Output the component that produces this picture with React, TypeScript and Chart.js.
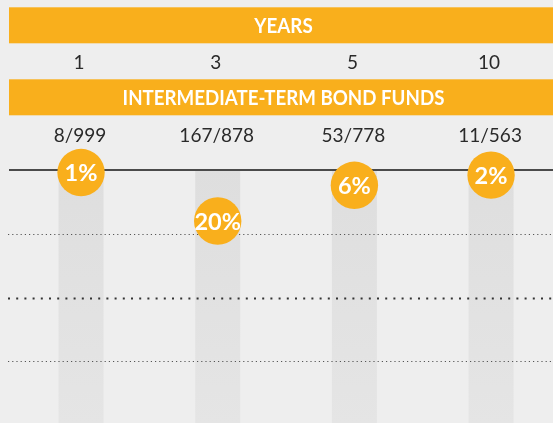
import React, { useEffect, useRef } from "react";
import { Chart, registerables } from "chart.js";

Chart.register(...registerables);

const headerTitle = "YEARS";
const sectionTitle = "INTERMEDIATE-TERM BOND FUNDS";
const years = ["1", "3", "5", "10"];
const fractions = ["8/999", "167/878", "53/778", "11/563"];
const percents = [1, 20, 6, 2];
const gridValues = [25, 50, 75];

const ORANGE = "#F9AF1C";
const BG = "#EEEEEE";
const TEXT = "#2a2a2a";
const FONT = "Lato, 'Open Sans', sans-serif";

const CANVAS_W = 570;
const CANVAS_H = 427;

function condensedText(ctx: CanvasRenderingContext2D, text: string, cx: number, cy: number, sx: number) {
  ctx.save();
  ctx.translate(cx, cy);
  ctx.scale(sx, 1);
  ctx.fillText(text, 0, 0);
  ctx.restore();
}

const infographic = {
  id: "infographic",
  beforeDraw(chart: any) {
    const { ctx } = chart;
    ctx.save();
    ctx.fillStyle = BG;
    ctx.fillRect(0, 0, chart.width, chart.height);
    ctx.restore();
  },
  beforeDatasetsDraw(chart: any) {
    const { ctx, chartArea } = chart;
    const x = chart.scales.x;
    const y = chart.scales.y;
    ctx.save();
    // header bands
    ctx.fillStyle = ORANGE;
    ctx.fillRect(9, 7.3, chart.width - 9, 36);
    ctx.fillRect(9, 79.3, chart.width - 9, 36);
    ctx.fillStyle = "#ffffff";
    ctx.font = `bold 20px ${FONT}`;
    ctx.textAlign = "center";
    ctx.textBaseline = "middle";
    condensedText(ctx, headerTitle, 283.5, 26.5, 0.94);
    condensedText(ctx, sectionTitle, 283.5, 98.5, 0.935);
    // column labels
    ctx.fillStyle = TEXT;
    ctx.font = `19px ${FONT}`;
    years.forEach((lbl, i) => {
      ctx.fillText(lbl, x.getPixelForValue(i) - 2, 63);
    });
    fractions.forEach((lbl, i) => {
      ctx.fillText(lbl, x.getPixelForValue(i) - 1, 135.5);
    });
    // tracks
    const top = y.getPixelForValue(0);
    years.forEach((_, i) => {
      const px = x.getPixelForValue(i);
      const g = ctx.createLinearGradient(0, top, 0, chartArea.bottom);
      g.addColorStop(0, "#dedede");
      g.addColorStop(1, "#e5e5e5");
      ctx.fillStyle = g;
      ctx.fillRect(px - 22.5, top, 45, chartArea.bottom - top);
    });
    // dotted grid lines
    gridValues.forEach((v, i) => {
      const py = Math.round(y.getPixelForValue(v)) + 0.5;
      ctx.beginPath();
      if (i === 1) {
        ctx.lineWidth = 2;
        ctx.setLineDash([2, 6.2]);
        ctx.strokeStyle = "#333333";
      } else {
        ctx.lineWidth = 1;
        ctx.setLineDash([1.2, 3]);
        ctx.strokeStyle = "#555555";
      }
      ctx.moveTo(8, py);
      ctx.lineTo(chart.width, py);
      ctx.stroke();
    });
    // zero line
    ctx.setLineDash([]);
    ctx.beginPath();
    ctx.lineWidth = 2;
    ctx.strokeStyle = "#4a4a4a";
    ctx.moveTo(9, top);
    ctx.lineTo(chart.width, top);
    ctx.stroke();
    ctx.restore();
  },
  afterDatasetsDraw(chart: any) {
    const { ctx } = chart;
    const meta = chart.getDatasetMeta(0);
    ctx.save();
    ctx.fillStyle = "#ffffff";
    ctx.font = `bold 23.5px ${FONT}`;
    ctx.textAlign = "center";
    ctx.textBaseline = "middle";
    meta.data.forEach((pt: any, i: number) => {
      ctx.fillText(`${percents[i]}%`, pt.x, pt.y + 1);
    });
    ctx.restore();
  },
};

export default function App() {
  const ref = useRef<HTMLCanvasElement | null>(null);

  useEffect(() => {
    document.body.style.margin = "0";
    document.body.style.background = BG;
    if (!ref.current) return;
    const chart = new Chart(ref.current, {
      type: "line",
      data: {
        labels: years,
        datasets: [
          {
            data: percents,
            showLine: false,
            pointRadius: 23.7,
            pointHoverRadius: 23.7,
            pointStyle: "circle",
            pointBackgroundColor: ORANGE,
            pointBorderWidth: 0,
            borderColor: ORANGE,
            clip: false as any,
          },
        ],
      },
      options: {
        responsive: false,
        animation: false,
        devicePixelRatio: 1,
        layout: {
          autoPadding: false,
          padding: { left: 12.7, right: 10.6, top: 170, bottom: 2 },
        },
        plugins: { legend: { display: false }, tooltip: { enabled: false } },
        events: [],
        scales: {
          x: { type: "category", display: false, offset: true },
          y: { display: false, reverse: true, min: 0, max: 100 },
        },
      },
      plugins: [infographic],
    });
    return () => chart.destroy();
  }, []);

  return (
    <div
      style={{
        position: "fixed",
        left: 0,
        top: 0,
        width: 553,
        height: 423,
        overflow: "hidden",
        background: BG,
      }}
    >
      <canvas ref={ref} width={CANVAS_W} height={CANVAS_H} style={{ display: "block" }} />
    </div>
  );
}
